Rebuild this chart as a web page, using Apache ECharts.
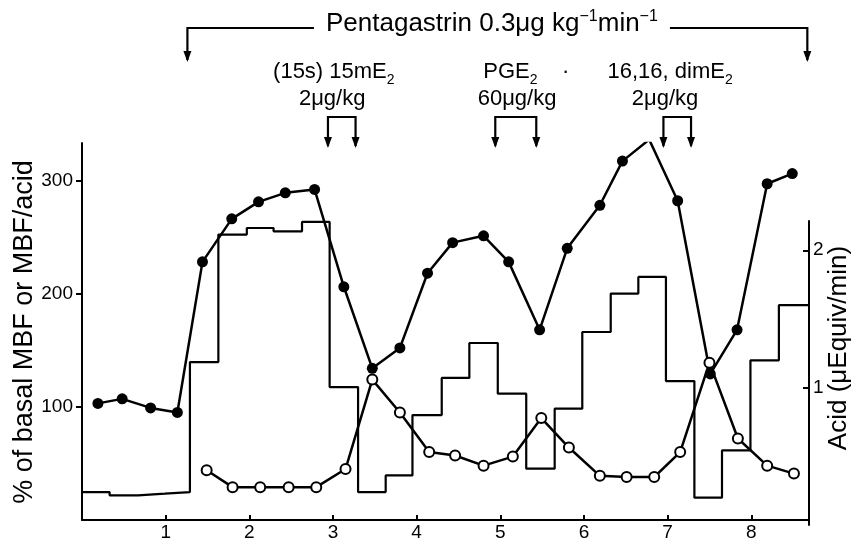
<!DOCTYPE html>
<html><head><meta charset="utf-8">
<script src="https://cdn.jsdelivr.net/npm/echarts@6/dist/echarts.min.js"></script>
<style>html,body{margin:0;padding:0;background:#fff}#c{width:858px;height:542px}</style>
</head><body><div id="c"></div>
<script>
// ---- data (x in hours) ----
const mbfTimes  = [0.19,0.48,0.82,1.14,1.44,1.79,2.11,2.43,2.78,3.13,3.47,3.80,4.13,4.43,4.80,5.10,5.47,5.80,6.19,6.46,6.78,7.12,7.51,7.83,8.19,8.49];
const mbfValues = [103,107,99,95,228,266,281,289,292,206,134,152,218,245,251,228,168,240,278,317,336,282,129,168,297,306];
const ratioTimes  = [1.49,1.80,2.13,2.47,2.80,3.15,3.47,3.80,4.15,4.46,4.80,5.15,5.49,5.82,6.19,6.51,6.84,7.15,7.50,7.84,8.19,8.51];
const ratioValues = [44,29,29,29,29,45,124,95,60,57,48,56,90,64,39,38,38,60,139,72,48,41];
const acidEdges  = [0,0.33,0.67,0.99,1.29,1.63,1.97,2.29,2.63,2.96,3.30,3.63,3.95,4.30,4.63,4.97,5.31,5.65,5.98,6.32,6.65,6.98,7.32,7.65,7.99,8.33,8.69];
const acidValues = [0.24,0.216,0.228,0.24,1.186,2.114,2.162,2.138,2.206,1.004,0.24,0.361,0.80,1.071,1.325,0.956,0.41,0.847,1.405,1.685,1.806,1.048,0.199,0.543,1.199,1.60];
const xTicks = [1,2,3,4,5,6,7,8];
const leftTicks = [100,200,300];
const rightTicks = [1,2];
// annotations
const pentagastrin = {from:1.26, to:8.67, labelAt:4.90};
const doseEvents = [
  {label:'{t|(15s) 15mE}{sub|2}', dose:'2μg/kg', from:2.94, to:3.27, labelAt:3.01, doseAt:2.99},
  {label:'{t|PGE}{sub|2}{t|    ·}', dose:'60μg/kg', from:4.94, to:5.43, labelAt:5.31, doseAt:5.20},
  {label:'{t|16,16, dimE}{sub|2}', dose:'2μg/kg', from:6.95, to:7.28, labelAt:7.03, doseAt:6.97}
];

const FONT = "'Liberation Sans', Arial, Helvetica, sans-serif";
const acidData = acidValues.map((v,i)=>[acidEdges[i], v]);
acidData.push([acidEdges[acidEdges.length-1], acidValues[acidValues.length-1]]);

const chart = echarts.init(document.getElementById('c'), null, {renderer:'canvas'});
const axisLineStyle = {color:'#000', width:2};
const labelStyle = {color:'#000', fontSize:19, fontFamily:FONT};
chart.setOption({
  animation:false,
  backgroundColor:'#fff',
  grid:[
    {left:82, right:49, top:143, bottom:17},
    {left:82, right:49, top:221, bottom:17}
  ],
  xAxis:[
    {type:'value', gridIndex:0, min:0, max:8.69,
     axisLine:{show:true, onZero:false, lineStyle:axisLineStyle},
     axisTick:{show:true, inside:true, length:5, customValues:xTicks, lineStyle:{color:'#000', width:2}},
     axisLabel:{customValues:xTicks, margin:3, ...labelStyle},
     splitLine:{show:false}},
    {type:'value', gridIndex:1, min:0, max:8.69, show:false}
  ],
  yAxis:[
    {type:'value', gridIndex:0, min:0, max:333,
     axisLine:{show:true, onZero:false, lineStyle:axisLineStyle},
     axisTick:{show:true, inside:false, length:6, customValues:leftTicks, lineStyle:{color:'#000', width:2}},
     axisLabel:{customValues:leftTicks, margin:9, ...labelStyle},
     splitLine:{show:false}},
    {type:'value', gridIndex:1, position:'right', min:0, max:2.213,
     axisLine:{show:true, onZero:false, lineStyle:axisLineStyle},
     axisTick:{show:true, inside:true, length:6, customValues:rightTicks, lineStyle:{color:'#000', width:2}},
     axisLabel:{customValues:rightTicks, margin:4, ...labelStyle},
     splitLine:{show:false}}
  ],
  series:[
    {type:'line', name:'acid', xAxisIndex:1, yAxisIndex:1, step:'end', data:acidData,
     showSymbol:false, symbol:'none', lineStyle:{color:'#000', width:2.2}, z:1},
    {type:'line', name:'MBF', xAxisIndex:0, yAxisIndex:0, data:mbfTimes.map((t,i)=>[t,mbfValues[i]]),
     symbol:'circle', symbolSize:11, itemStyle:{color:'#000'}, lineStyle:{color:'#000', width:2.5}, z:3},
    {type:'line', name:'MBF/acid', xAxisIndex:0, yAxisIndex:0, data:ratioTimes.map((t,i)=>[t,ratioValues[i]]),
     symbol:'circle', symbolSize:10, itemStyle:{color:'#fff', borderColor:'#000', borderWidth:2},
     lineStyle:{color:'#000', width:2.5}, z:4}
  ]
});

// annotations positioned through the x axis scale
const px = v => chart.convertToPixel({xAxisIndex:0}, v);
const g = [];
const stroke = {stroke:'#000', lineWidth:2.2, fill:null};
function arrowHead(x, yTip){
  g.push({type:'polygon', shape:{points:[[x-4,yTip-11],[x+4,yTip-11],[x,yTip]]}, style:{fill:'#000'}});
}
// axis titles
g.push({type:'text', x:25, y:332, rotation:Math.PI/2, style:{text:'% of basal MBF or MBF/acid',
  align:'center', verticalAlign:'middle', fontSize:27, fontFamily:FONT, fill:'#000'}});
g.push({type:'text', x:839, y:348, rotation:Math.PI/2, style:{text:'Acid (μEquiv/min)',
  align:'center', verticalAlign:'middle', fontSize:26, fontFamily:FONT, fill:'#000'}});
// Pentagastrin bracket
const p0 = px(pentagastrin.from), p1 = px(pentagastrin.to), pl = px(pentagastrin.labelAt);
const half = 178;
g.push({type:'polyline', shape:{points:[[p0,60],[p0,28],[pl-half,28]]}, style:stroke});
g.push({type:'polyline', shape:{points:[[pl+half,28],[p1,28],[p1,60]]}, style:stroke});
arrowHead(p0,62); arrowHead(p1,62);
g.push({type:'text', x:pl, y:23, style:{
  text:'{a|Pentagastrin 0.3μg kg}{s|−1}{a|min}{s|−1}', align:'center', verticalAlign:'middle',
  rich:{a:{fontSize:26, fontFamily:FONT, fill:'#000', lineHeight:28, verticalAlign:'bottom'},
        s:{fontSize:16, fontFamily:FONT, fill:'#000', lineHeight:16, verticalAlign:'top'}}}});
doseEvents.forEach(d=>{
  const a = px(d.from), b = px(d.to);
  g.push({type:'polyline', shape:{points:[[a,146],[a,117],[b,117],[b,146]]}, style:stroke});
  arrowHead(a,148); arrowHead(b,148);
  g.push({type:'text', x:px(d.labelAt), y:74, style:{text:d.label, align:'center', verticalAlign:'middle',
    rich:{t:{fontSize:22, fontFamily:FONT, fill:'#000', lineHeight:26, verticalAlign:'top'},
          sub:{fontSize:14, fontFamily:FONT, fill:'#000', lineHeight:14, verticalAlign:'bottom'}}}});
  g.push({type:'text', x:px(d.doseAt), y:99, style:{text:d.dose, align:'center', verticalAlign:'middle',
    fontSize:22, fontFamily:FONT, fill:'#000'}});
});
chart.setOption({graphic:g});
</script>
</body></html>
